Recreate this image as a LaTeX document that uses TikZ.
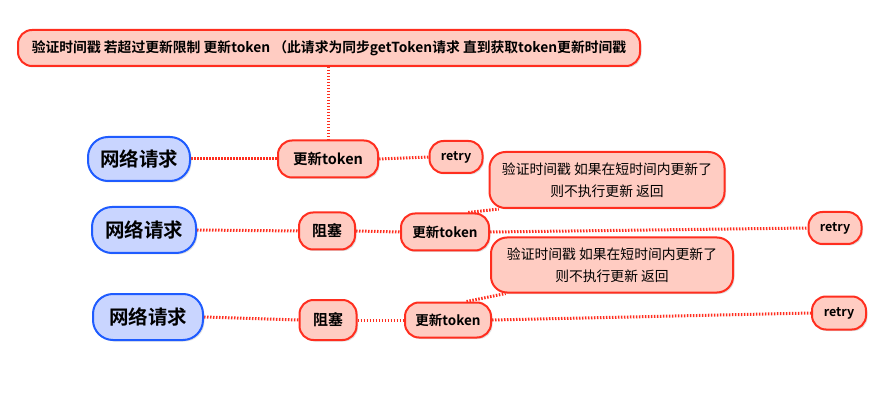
\documentclass[tikz,border=0pt]{standalone}
\usepackage{fontspec}
\setmainfont{Noto Sans CJK SC}[BoldFont={Noto Sans CJK SC Bold}]
\usetikzlibrary{shadows,backgrounds}
\definecolor{rb}{HTML}{FF2E1F}
\definecolor{rf}{HTML}{FFCCC2}
\definecolor{bb}{HTML}{1F5CFF}
\definecolor{bf}{HTML}{C9D5FF}
\tikzset{
  shd/.style={drop shadow={opacity=0.25,shadow xshift=1.5pt,shadow yshift=-1.5pt}},
  rnode/.style={draw=rb,fill=rf,line width=2pt,rounded corners=14pt,shd,align=center,inner sep=0pt,font=\bfseries},
  bnode/.style={draw=bb,fill=bf,line width=2pt,rounded corners=20pt,shd,align=center,inner sep=0pt,font=\bfseries\fontsize{19.5}{22}\selectfont},
  note/.style={rnode,rounded corners=16pt,font=\fontsize{13.8}{22}\selectfont},
  conn/.style={draw=rb,line width=3pt,dash pattern=on 1.5pt off 1.5pt}
}
\begin{document}
\begin{tikzpicture}[x=1pt,y=-1pt]
\useasboundingbox (0,0) rectangle (873,406);
\node[rnode,minimum width=622pt,minimum height=36pt,font=\bfseries\fontsize{13.8}{16}\selectfont] (top) at (329,48) {验证时间戳 若超过更新限制 更新token （此请求为同步getToken请求 直到获取token更新时间戳};
% row 1
\node[bnode,minimum width=102pt,minimum height=44pt] (b1) at (139,159) {网络请求};
\node[rnode,minimum width=100pt,minimum height=37pt,font=\bfseries\fontsize{14.5}{16}\selectfont] (u1) at (328,159) {更新token};
\node[rnode,minimum width=53pt,minimum height=32pt,font=\bfseries\fontsize{12.5}{14}\selectfont] (r1) at (456,157) {retry};
% row 2
\node[bnode,minimum width=104pt,minimum height=46pt] (b2) at (144,230) {网络请求};
\node[rnode,minimum width=56pt,minimum height=37pt,font=\bfseries\fontsize{15}{16}\selectfont] (k2) at (327,231) {阻塞};
\node[rnode,minimum width=88pt,minimum height=37pt,font=\bfseries\fontsize{13.5}{15}\selectfont] (u2) at (445,232) {更新token};
\node[note,minimum width=235pt,minimum height=56pt] (n1) at (607,180) {验证时间戳 如果在短时间内更新了\\则不执行更新 返回};
\node[rnode,minimum width=53pt,minimum height=32pt,font=\bfseries\fontsize{12.5}{14}\selectfont] (r2) at (835,228) {retry};
% row 3
\node[bnode,minimum width=110pt,minimum height=46pt] (b3) at (148,317) {网络请求};
\node[rnode,minimum width=57pt,minimum height=40pt,font=\bfseries\fontsize{15}{16}\selectfont] (k3) at (328,320) {阻塞};
\node[rnode,minimum width=86pt,minimum height=35pt,font=\bfseries\fontsize{13.5}{15}\selectfont] (u3) at (448,320) {更新token};
\node[note,minimum width=242pt,minimum height=55pt] (n2) at (612,265) {验证时间戳 如果在短时间内更新了\\则不执行更新 返回};
\node[rnode,minimum width=54pt,minimum height=33pt,font=\bfseries\fontsize{12.5}{14}\selectfont] (r3) at (839,313) {retry};
\begin{scope}[on background layer]
\draw[conn] (u1.north |- top.south) -- (u1.north);
\draw[conn] (b1.east) -- (u1.west);
\draw[conn] (u1.east) -- (r1.west);
\draw[conn] (b2.east) -- (k2.west);
\draw[conn] (k2.east) -- (u2.west);
\draw[conn] (u2.east) -- (r2.west);
\draw[conn] (u2.40) -- (n1.195);
\draw[conn] (b3.east) -- (k3.west);
\draw[conn] (k3.east) -- (u3.west);
\draw[conn] (u3.east) -- (r3.west);
\draw[conn] (u3.45) -- (n2.195);
\end{scope}
\end{tikzpicture}
\end{document}
